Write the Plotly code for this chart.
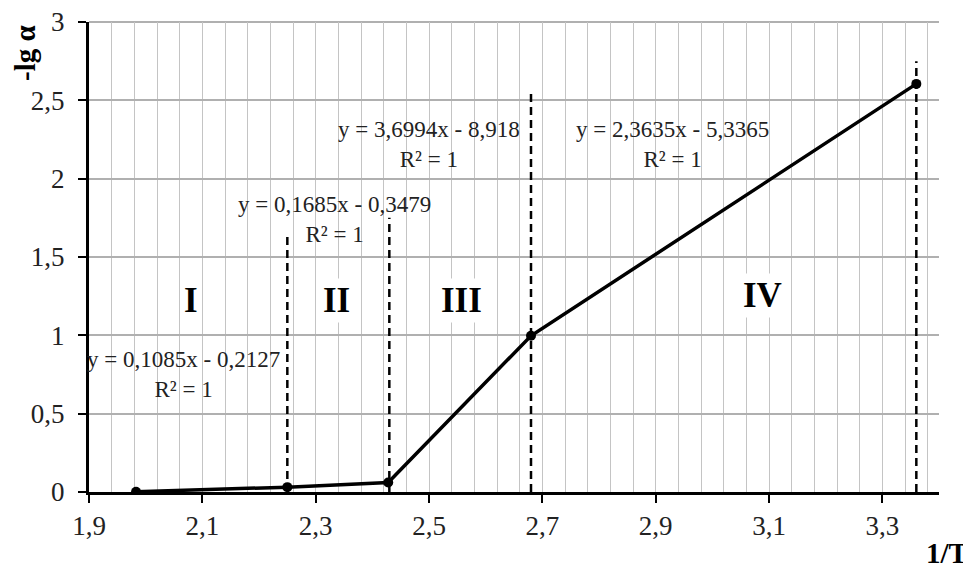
import plotly.graph_objects as go

# Data
x_pts = [1.983, 2.25, 2.428, 2.68, 3.36]
y_pts = [0.002, 0.031, 0.061, 0.997, 2.605]

vline_x = [2.25, 2.43, 2.68, 3.36]
vline_top = [1.65, 1.75, 2.55, 2.75]

eq_texts = ["y = 0,1085x - 0,2127<br>R² = 1",
            "y = 0,1685x - 0,3479<br>R² = 1",
            "y = 3,6994x - 8,918<br>R² = 1",
            "y = 2,3635x - 5,3365<br>R² = 1"]
eq_x = [2.066, 2.334, 2.5, 2.929]
eq_y = [0.75, 1.742, 2.221, 2.221]

region_labels = ["I", "II", "III", "IV"]
region_x = [2.08, 2.337, 2.557, 3.088]
region_y = [1.225, 1.225, 1.225, 1.257]

Y_MAX = 3

FONT = "Liberation Serif"

fig = go.Figure()

for vx, vt in zip(vline_x, vline_top):
    fig.add_trace(go.Scatter(x=[vx, vx], y=[0, vt], mode="lines",
                             line=dict(color="black", width=2.5, dash="8px,5px"),
                             showlegend=False, hoverinfo="skip"))

fig.add_trace(go.Scatter(x=x_pts, y=y_pts, mode="lines+markers",
                         line=dict(color="black", width=3.5),
                         marker=dict(color="black", size=10),
                         showlegend=False))

for t, ex, ey in zip(eq_texts, eq_x, eq_y):
    fig.add_annotation(x=ex, y=ey, xref="x", yref="y", text=t, showarrow=False,
                       font=dict(family=FONT, size=23, color="#222"), align="center")

for t, rx, ry in zip(region_labels, region_x, region_y):
    fig.add_annotation(x=rx, y=ry, xref="x", yref="y", text="<b>" + t + "</b>",
                       showarrow=False, bgcolor="white", borderpad=2,
                       font=dict(family=FONT, size=35, color="black"))

# top gridline at the y-axis maximum (plotly omits the grid line on the range edge)
fig.add_shape(type="line", xref="paper", yref="paper", x0=0, x1=1, y0=1, y1=1,
              line=dict(color="#b0b0b0", width=2), layer="below")

# page body has an 8px default margin; figure sized to fit the 971x569 window
OFF = 8
W, H = 971 - OFF, 569 - OFF
pl, pr, pt, pb = 89 - OFF, 32, 22 - OFF, 77

fig.update_layout(
    width=W, height=H,
    margin=dict(l=pl, r=pr, t=pt, b=pb, autoexpand=False),
    paper_bgcolor="white", plot_bgcolor="white",
    separators=", ",
    font=dict(family=FONT, size=27, color="#222"),
    xaxis=dict(range=[1.9, 3.4], tick0=1.9, dtick=0.2, showgrid=True,
               gridcolor="#c4c4c4", gridwidth=1.2,
               minor=dict(tick0=1.9, dtick=0.04, showgrid=True, gridcolor="#c4c4c4", gridwidth=1.2),
               showline=True, linecolor="black", linewidth=2.5,
               ticks="outside", ticklen=8, tickwidth=2, tickcolor="black",
               ticklabelstandoff=0, ticklabeloverflow="allow", zeroline=False),
    yaxis=dict(range=[0, Y_MAX], tick0=0, dtick=0.5, showgrid=True, gridcolor="#b0b0b0", gridwidth=2,
               showline=True, linecolor="black", linewidth=3,
               ticks="outside", ticklen=8, tickwidth=2, tickcolor="black",
               ticklabelstandoff=8, ticklabeloverflow="allow", zeroline=False),
)

pw, ph = W - pl - pr, H - pt - pb
def px_to_paper(px, py):
    # px, py are window coordinates
    px -= OFF
    py -= OFF
    return (px - pl) / pw, (H - pb - py) / ph

ax, ay = px_to_paper(25, 53)
fig.add_annotation(x=ax, y=ay, xref="paper", yref="paper", text="<b>-lg α</b>",
                   xanchor="center", yanchor="middle",
                   showarrow=False, textangle=-90, font=dict(family=FONT, size=29, color="black"))
bx, by = px_to_paper(947, 553)
fig.add_annotation(x=bx, y=by, xref="paper", yref="paper", text="<b>1/T</b>",
                   xanchor="center", yanchor="middle",
                   showarrow=False, font=dict(family=FONT, size=29, color="black"))

fig.write_html("out.html")
